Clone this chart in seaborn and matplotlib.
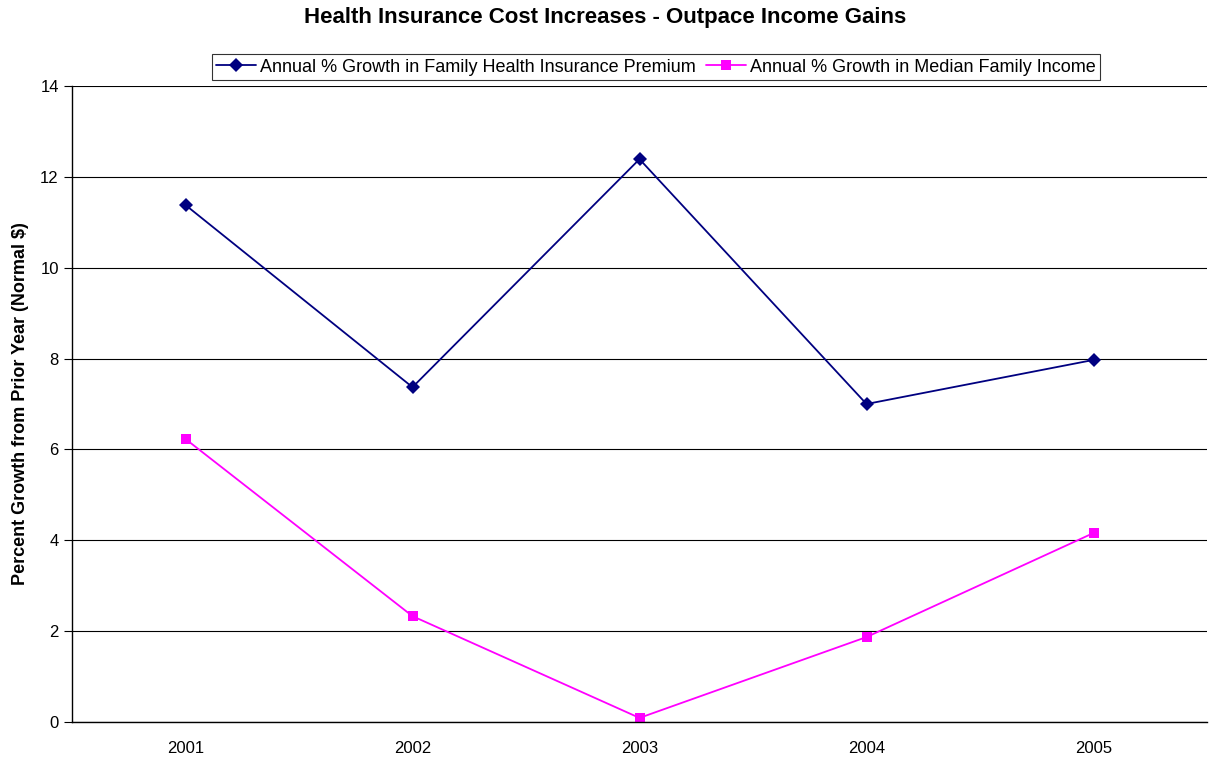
import pandas as pd
import numpy as np
import matplotlib.pyplot as plt
import seaborn as sns

years = ['2001', '2002', '2003', '2004', '2005']
premium_growth = [11.38, 7.37, 12.39, 7.0, 7.97]
income_growth = [6.23, 2.33, 0.09, 1.87, 4.16]

premium_label = 'Annual % Growth in Family Health Insurance Premium'
income_label = 'Annual % Growth in Median Family Income'

df = pd.DataFrame({
    'pos': list(range(len(years))) * 2,
    'value': premium_growth + income_growth,
    'series': [premium_label] * len(years) + [income_label] * len(years),
})

sns.set_style('white')
plt.rcParams['font.family'] = ['Liberation Sans', 'DejaVu Sans']
plt.rcParams['text.color'] = 'black'
plt.rcParams['axes.labelcolor'] = 'black'
plt.rcParams['xtick.color'] = 'black'
plt.rcParams['ytick.color'] = 'black'

fig = plt.figure(figsize=(12.1, 7.63), dpi=100)
ax = fig.add_axes([72 / 1210, 1 - 722 / 763, (1207 - 72) / 1210, (722 - 86) / 763])

sns.lineplot(data=df, x='pos', y='value', hue='series', style='series',
             palette={premium_label: '#000080', income_label: '#FF00FF'},
             markers={premium_label: 'D', income_label: 's'},
             dashes=False, markersize=7, linewidth=1.3,
             markeredgewidth=0, ax=ax)

ax.set_xlim(-0.5, len(years) - 0.5)
ax.set_ylim(0, 14)
ax.set_yticks(np.arange(0, 15, 2))
ax.set_xticks(range(len(years)))
ax.set_xticklabels(years)
ax.set_xticks(np.arange(-0.5, len(years), 1), minor=True)
ax.tick_params(axis='x', which='major', length=0, pad=14, labelsize=12)
ax.tick_params(axis='x', which='minor', length=6, width=0.8, color='#555555', direction='out')
ax.tick_params(axis='y', length=6, width=0.8, color='black', direction='out', labelsize=12, left=True)
ax.grid(axis='y', color='black', linewidth=0.8)
ax.set_axisbelow(True)
for s in ['top', 'right']:
    ax.spines[s].set_visible(False)
for s in ['left', 'bottom']:
    ax.spines[s].set_color('black')
    ax.spines[s].set_linewidth(1)

ax.set_xlabel('')
ax.set_ylabel('Percent Growth from Prior Year (Normal $)', fontsize=13, fontweight='bold', labelpad=8)

leg = ax.legend(loc='center', bbox_to_anchor=(656 / 1210, 1 - 67 / 763),
                bbox_transform=fig.transFigure, ncol=2, frameon=True, fancybox=False,
                fontsize=13, handlelength=2.2, columnspacing=0.6, handletextpad=0.2,
                borderpad=0.25)
leg.get_frame().set_edgecolor('black')
leg.get_frame().set_linewidth(0.8)

fig.text(0.5, 1 - 17 / 763, 'Health Insurance Cost Increases - Outpace Income Gains',
         ha='center', va='center', fontsize=16, fontweight='bold')

fig.savefig('out.png', dpi=100)
